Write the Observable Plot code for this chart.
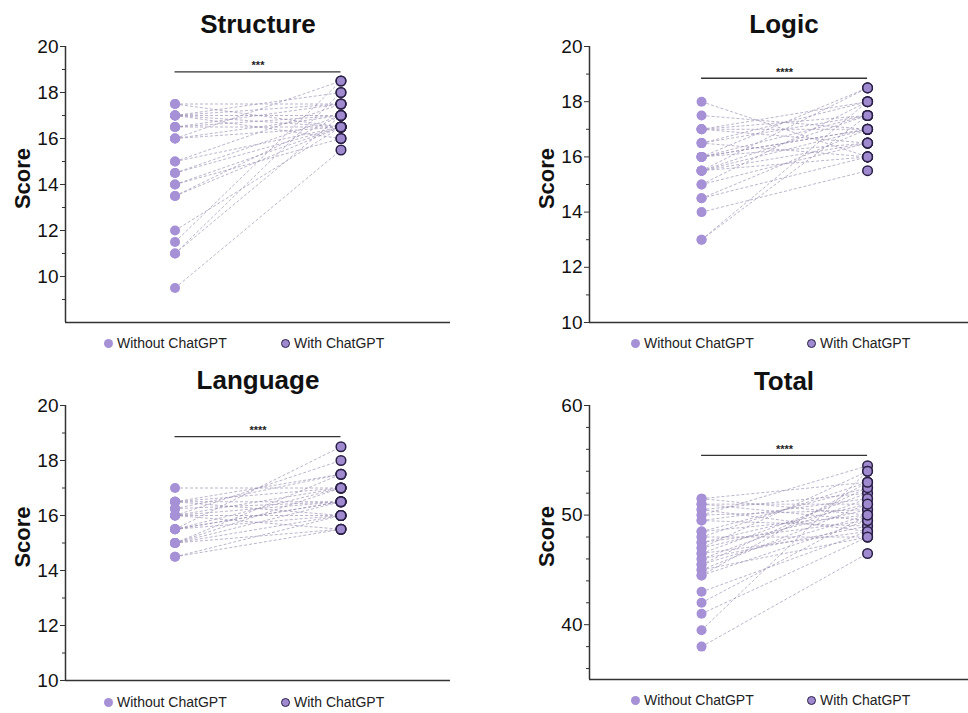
<!DOCTYPE html>
<html>
<head>
<meta charset="utf-8">
<script src="https://cdn.jsdelivr.net/npm/d3@7"></script>
<script src="https://cdn.jsdelivr.net/npm/@observablehq/plot@0.6"></script>
<style>
  html, body { margin: 0; padding: 0; background: #fff; }
  #root { position: relative; width: 968px; height: 713px; font-family: "Liberation Sans", Arial, sans-serif; overflow: hidden; }
  .title { position: absolute; font-weight: bold; font-size: 26px; line-height: 26px; text-align: center; width: 300px; color: #111; }
  .legend { position: absolute; height: 14px; display: flex; align-items: center; font-size: 14px; color: #222; white-space: nowrap; }
  .sw { display: inline-block; width: 9px; height: 9px; border-radius: 50%; box-sizing: border-box; margin-right: 4px; }
  .sw.wo { background: #a690d6; }
  .sw.wi { background: #9f8ad0; border: 1.6px solid #2a1f45; }
  .panel { position: absolute; }
</style>
</head>
<body>
<div id="root"></div>
<script>
// ---- data ----
const titles = ["Structure", "Logic", "Language", "Total"];
const groups = ["Without ChatGPT", "With ChatGPT"];

const structureWithout = [17.5,17.5,17,17,17,17,16.5,16.5,16.5,16,16,16,15,15,14.5,14.5,14,14,13.5,13.5,12,11.5,11,11,9.5,17];
const structureWith    = [16.5,17.5,16,17,18,16.5,17.5,16.5,17,18.5,17,16.5,17.5,16.5,17,16.5,16.5,16,17,16.5,16.5,18.5,18,17,15.5,17.5];

const logicWithout = [18,17.5,17,17,17,16.5,16.5,16.5,16,16,16,16,15.5,15.5,15.5,15.5,15,15,14.5,14,13,13,14.5,16,15.5,17];
const logicWith    = [16,17,17,18,16.5,17.5,18,16,17,17.5,16.5,18.5,17,16.5,16,17.5,18,16.5,17,15.5,18,17.5,16,17,18.5,17.5];

const languageWithout = [17,16.5,16.5,16.5,16.25,16,16,16,16,15.5,15.5,15.5,15.5,15,15,15,15,14.5,14.5,16.5,15,16,15.5,16.25];
const languageWith    = [17,16.5,17,16,17.5,17,16.5,18,15.5,18.5,17,16,16.5,16.5,17,15.5,16,16,15.5,17.5,17.5,16,16.5,16.5];

const totalWithout = [51.5,51.5,51,51,50.5,50.5,50,50,49.5,49.5,48.5,48.5,48,48,47.5,47.5,47,47,46.5,46.5,46,46,45.5,45.5,45,45,44.5,44.5,43,42,41,39.5,38];
const totalWith    = [50,53,51,49.5,52,48.5,54.5,50.5,51.5,49,52.5,50,53,48,51,49.5,54,50.5,52,48.5,51.5,49,50,52.5,48,51,49.5,53,48.5,50,48,54,46.5];

const majorTicksA = [10,12,14,16,18,20];
const minorTicksA = [9,11,13,15,17,19];
const minorTicksB = [11,13,15,17,19];
const majorTicksTotal = [40,50,60];
const minorTicksTotal = [36,38,42,44,46,48,52,54,56,58];

const sigLevels = [18.9, 18.85, 18.87, 55.45];
const sigStars = ["***", "****", "****", "****"];
const yDomains = [[8,20],[10,20],[10,20],[35,60]];

// ---- layout ----
const layouts = [
  {left: 0,   top: 36,  width: 460, height: 296, ml: 65,  mr: 10, xd: [-0.66, 1.66],  titleX: 108, titleY: 11,  legY: 336, legA: 104, legB: 281},
  {left: 484, top: 36,  width: 484, height: 296, ml: 105, mr: 0,  xd: [-0.675, 1.608], titleX: 634, titleY: 11,  legY: 336, legA: 631, legB: 807},
  {left: 0,   top: 395, width: 460, height: 295, ml: 65,  mr: 10, xd: [-0.66, 1.66],  titleX: 108, titleY: 367, legY: 695, legA: 104, legB: 281},
  {left: 484, top: 395, width: 484, height: 294, ml: 105, mr: 0,  xd: [-0.675, 1.608], titleX: 634, titleY: 368, legY: 693, legA: 631, legB: 807}
];

const datasets = [
  [structureWithout, structureWith],
  [logicWithout, logicWith],
  [languageWithout, languageWith],
  [totalWithout, totalWith]
];
const majors = [majorTicksA, majorTicksA, majorTicksA, majorTicksTotal];
const minors = [minorTicksA, minorTicksB, minorTicksB, minorTicksTotal];

const root = document.getElementById("root");

titles.forEach((title, i) => {
  const L = layouts[i];
  const [wo, wi] = datasets[i];
  const pairs = wo.map((v, k) => ({without: v, with: wi[k]}));
  const yd = yDomains[i];

  const chart = Plot.plot({
    width: L.width,
    height: L.height,
    marginLeft: L.ml,
    marginRight: L.mr,
    marginTop: 10,
    marginBottom: 10,
    style: {fontFamily: "'Liberation Sans', Arial, sans-serif", fontSize: "19px", color: "#111", background: "transparent", overflow: "visible"},
    x: {domain: L.xd, axis: null},
    y: {domain: yd, axis: null},
    marks: [
      Plot.link(pairs, {x1: () => 0, y1: "without", x2: () => 1, y2: "with",
        stroke: "#958aae", strokeWidth: 0.8, strokeDasharray: "3,2", strokeOpacity: 0.8}),
      Plot.dot(pairs, {x: () => 0, y: "without", r: 5, fill: "#a690d6", stroke: "none"}),
      Plot.dot(pairs, {x: () => 1, y: "with", r: 4.8, fill: "#9f8ad0", stroke: "#2a1f45", strokeWidth: 1.5}),
      Plot.ruleY([sigLevels[i]], {x1: 0, x2: 1, stroke: "#333", strokeWidth: 1.3}),
      Plot.text([sigStars[i]], {x: 0.5, y: () => sigLevels[i], dy: -6, fontSize: 11, fontWeight: "bold", fill: "#222"}),
      Plot.axisY({ticks: minors[i], tickSize: 3, tickFormat: () => "", label: null, stroke: "#333"}),
      Plot.axisY({ticks: majors[i], tickSize: 5, tickPadding: 2, label: null, stroke: "#333", fill: "#111"}),
      Plot.ruleX([L.xd[0]], {stroke: "#333", strokeWidth: 1.5}),
      Plot.ruleY([yd[0]], {stroke: "#333", strokeWidth: 1.5}),
      Plot.text(["Score"], {frameAnchor: "left", textAnchor: "middle", rotate: -90, dx: -43, dy: -6, fontSize: 22, fontWeight: "bold", fill: "#111"})
    ]
  });
  chart.classList.add("panel");
  chart.style.left = L.left + "px";
  chart.style.top = L.top + "px";
  root.appendChild(chart);

  const t = document.createElement("div");
  t.className = "title";
  t.textContent = title;
  t.style.left = L.titleX + "px";
  t.style.top = L.titleY + "px";
  root.appendChild(t);

  [[L.legA, "wo", groups[0]], [L.legB, "wi", groups[1]]].forEach(([x, cls, label]) => {
    const lg = document.createElement("div");
    lg.className = "legend";
    lg.style.left = x + "px";
    lg.style.top = L.legY + "px";
    const sw = document.createElement("span");
    sw.className = "sw " + cls;
    lg.appendChild(sw);
    lg.appendChild(document.createTextNode(label));
    root.appendChild(lg);
  });
});
</script>
</body>
</html>
